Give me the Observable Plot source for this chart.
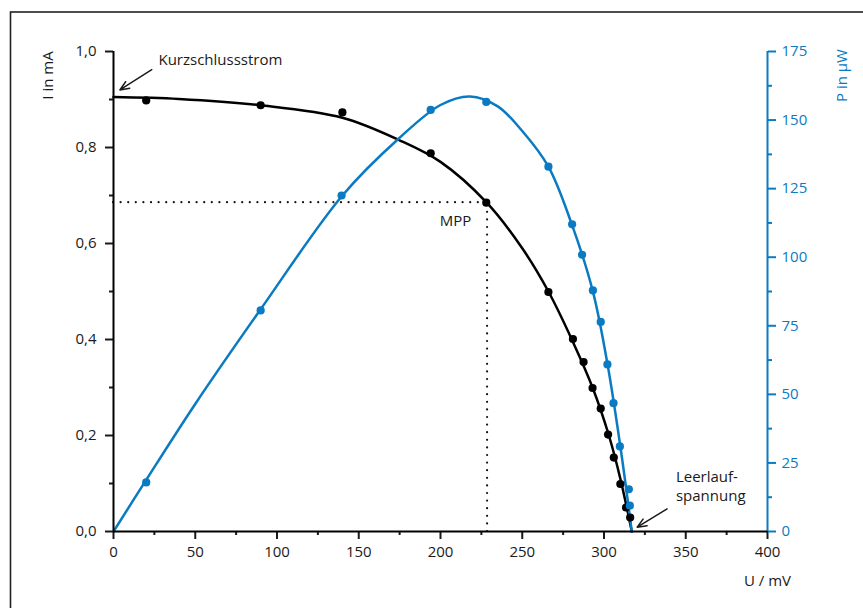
<!DOCTYPE html>
<html><head><meta charset="utf-8">
<script src="https://cdn.jsdelivr.net/npm/d3@7"></script>
<script src="https://cdn.jsdelivr.net/npm/@observablehq/plot@0.6"></script>
<style>
body{margin:0;background:#fff;}
#chart{position:relative;width:863px;height:608px;overflow:hidden;}
</style></head><body><div id="chart"></div>
<script>
// Measured current I (mA) vs voltage U (mV)
const uMeasI = [20, 90, 140, 194, 228, 266, 281, 287.5, 293, 298, 302.5, 306, 310, 313.5, 316];
const iMeas  = [0.898, 0.888, 0.873, 0.788, 0.685, 0.499, 0.401, 0.353, 0.299, 0.256, 0.202, 0.154, 0.099, 0.050, 0.029];
// Measured power P (µW) vs voltage U (mV)
const uMeasP = [20, 90, 139.5, 194, 228, 266, 280.5, 286.6, 293.2, 298, 302.1, 305.8, 309.7, 315.2, 315.8];
const pMeas  = [17.9, 80.6, 122.5, 153.7, 156.6, 133, 112, 100.9, 87.9, 76.4, 60.9, 46.8, 31.0, 15.4, 9.4];
// Fitted curves
const uFitI = [0, 40, 90, 140, 175, 200, 228, 250, 266, 281, 293, 303, 310, 317];
const iFit  = [0.905, 0.901, 0.888, 0.862, 0.815, 0.770, 0.686, 0.59, 0.50, 0.395, 0.30, 0.20, 0.11, 0];
const uFitP = [0, 20, 50, 90, 140, 174, 200, 218, 235, 250, 266, 280, 293, 302, 310, 317];
const pFit  = [0, 18.8, 46.5, 81, 122.5, 143, 155.5, 158.6, 155, 146, 133, 112.5, 88, 61.5, 31, 0];
// Maximum power point
const mppU = 228.5;
const mppI = 0.686;
// Tick values
const xTicks = [0, 50, 100, 150, 200, 250, 300, 350, 400];
const xMinor = [25, 75, 125, 175, 225, 275, 325, 375];
const iTicks = [0, 0.2, 0.4, 0.6, 0.8, 1.0];
const iMinor = [0.1, 0.3, 0.5, 0.7, 0.9];
const pTicks = [0, 25, 50, 75, 100, 125, 150, 175];
const pMinor = [12.5, 37.5, 62.5, 87.5, 112.5, 137.5, 162.5];
const P_MAX = 175;

const blue = "#0a7bc2";
const ink = "#1a1a1a";

const ptsI = uMeasI.map((u, k) => ({u, v: iMeas[k]}));
const ptsP = uMeasP.map((u, k) => ({u, v: pMeas[k]}));
const fitI = uFitI.map((u, k) => ({u, v: iFit[k]}));
const fitP = uFitP.map((u, k) => ({u, v: pFit[k]}));

const dotted = {stroke: "#111", strokeWidth: 2.2, strokeDasharray: "0,7.6", strokeLinecap: "round"};

const plot = Plot.plot({
  width: 863, height: 608,
  marginLeft: 113, marginRight: 96, marginTop: 51, marginBottom: 77,
  style: {fontFamily: "'Open Sans', sans-serif", fontSize: "15px", color: ink, background: "white", overflow: "visible"},
  x: {domain: [0, 400]},
  y: {domain: [0, 1]},
  marks: [
    Plot.ruleY([mppI], {x1: 0, x2: mppU, ...dotted}),
    Plot.ruleX([mppU], {y1: 0, y2: mppI, ...dotted}),
    Plot.line(fitI, {x: "u", y: "v", curve: "catmull-rom", stroke: "#000", strokeWidth: 2.5}),
    Plot.line(fitP, {x: "u", y: d => d.v / P_MAX, curve: "catmull-rom", stroke: blue, strokeWidth: 2.5}),
    Plot.dot(ptsI, {x: "u", y: "v", r: 4.1, fill: "#000"}),
    Plot.dot(ptsP, {x: "u", y: d => d.v / P_MAX, r: 4.1, fill: blue}),

    Plot.axisX({ticks: xTicks, tickSize: 8, tickPadding: 7, strokeWidth: 2, label: null, tickFormat: d => String(d), color: ink, fontSize: 15}),
    Plot.axisX({ticks: xMinor, tickSize: 4, strokeWidth: 2, label: null, tickFormat: () => "", color: ink}),
    Plot.axisY({anchor: "left", ticks: iTicks, tickSize: 8, tickPadding: 9, strokeWidth: 2, label: null, tickFormat: d => d.toFixed(1).replace(".", ","), color: ink, fontSize: 15}),
    Plot.axisY({anchor: "left", ticks: iMinor, tickSize: 4, strokeWidth: 2, label: null, tickFormat: () => "", color: ink}),
    Plot.axisY({anchor: "right", ticks: pTicks.map(p => p / P_MAX), tickSize: 8, tickPadding: 6, strokeWidth: 2, label: null, tickFormat: d => String(Math.round(d * P_MAX)), color: blue, fontSize: 15}),
    Plot.axisY({anchor: "right", ticks: pMinor.map(p => p / P_MAX), tickSize: 4, strokeWidth: 2, label: null, tickFormat: () => "", color: blue}),
    Plot.ruleX([0], {stroke: "#000", strokeWidth: 2}),
    Plot.ruleX([400], {stroke: blue, strokeWidth: 2}),
    Plot.ruleY([0], {stroke: "#000", strokeWidth: 2}),

    Plot.text(["I in mA"], {frameAnchor: "top-left", dx: -65, dy: 24, rotate: -90, text: d => d, textAnchor: "middle", lineAnchor: "middle", fill: ink, fontSize: 15}),
    Plot.text(["P in µW"], {frameAnchor: "top-right", dx: 75, dy: 24, rotate: -90, text: d => d, textAnchor: "middle", lineAnchor: "middle", fill: blue, fontSize: 15}),
    Plot.text(["U / mV"], {frameAnchor: "bottom-right", dy: 50, text: d => d, textAnchor: "middle", lineAnchor: "middle", fill: ink, fontSize: 15}),

    Plot.text([{u: 27.5, v: 0.981, t: "Kurzschlussstrom"}], {x: "u", y: "v", text: "t", textAnchor: "start", fill: ink, fontSize: 15}),
    Plot.arrow([{x1: 23.4, y1: 0.962, x2: 3.9, y2: 0.920}], {x1: "x1", y1: "y1", x2: "x2", y2: "y2", stroke: ink, strokeWidth: 1.5, headLength: 10, headAngle: 45}),
    Plot.text([{u: 199.6, v: 0.646, t: "MPP"}], {x: "u", y: "v", text: "t", textAnchor: "start", fill: ink, fontSize: 15}),
    Plot.text([{u: 344, v: 0.114, t: "Leerlauf-"}, {u: 344, v: 0.073, t: "spannung"}], {x: "u", y: "v", text: "t", textAnchor: "start", fill: ink, fontSize: 15}),
    Plot.arrow([{x1: 338.6, y1: 0.047, x2: 320.3, y2: 0.009}], {x1: "x1", y1: "y1", x2: "x2", y2: "y2", stroke: ink, strokeWidth: 1.5, headLength: 10, headAngle: 45})
  ]
});

d3.select(plot).append("rect")
  .attr("x", 10.5).attr("y", 12).attr("width", 1000).attr("height", 1000)
  .attr("fill", "none").attr("stroke", "#222").attr("stroke-width", 1.6);

document.getElementById("chart").appendChild(plot);
</script>
</body></html>
